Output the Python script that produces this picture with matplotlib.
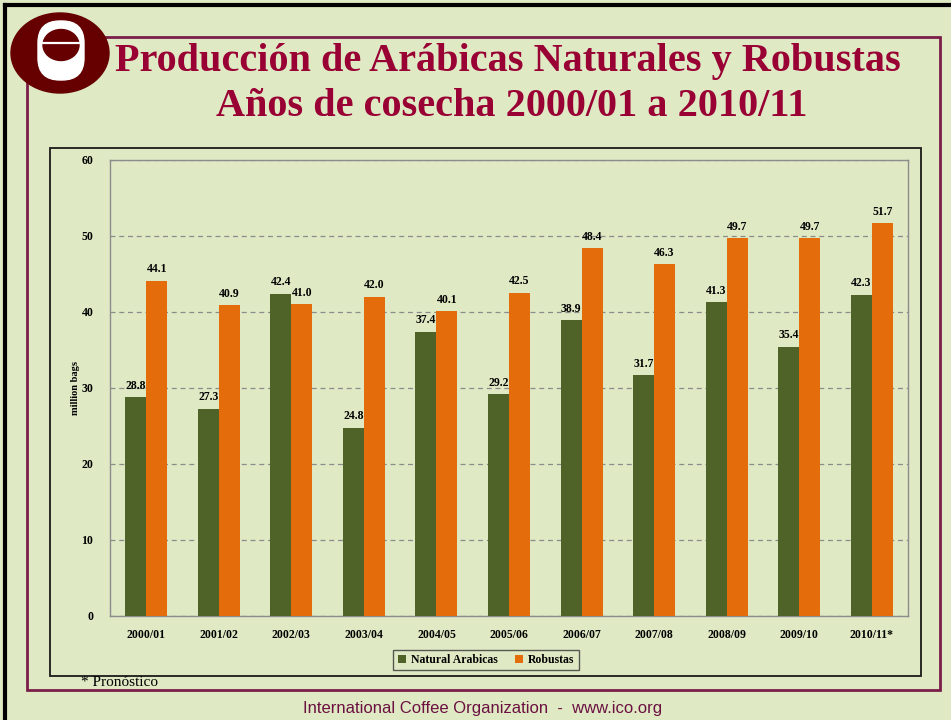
import numpy as np
import matplotlib
matplotlib.use("Agg")
import matplotlib.pyplot as plt
from matplotlib.patches import Rectangle, Ellipse, FancyBboxPatch

# data
seasons = ["2000/01", "2001/02", "2002/03", "2003/04", "2004/05", "2005/06",
           "2006/07", "2007/08", "2008/09", "2009/10", "2010/11*"]
natural_arabicas = [28.8, 27.3, 42.4, 24.8, 37.4, 29.2, 38.9, 31.7, 41.3, 35.4, 42.3]
robustas = [44.1, 40.9, 41.0, 42.0, 40.1, 42.5, 48.4, 46.3, 49.7, 49.7, 51.7]

bg = "#DFEAC4"
green = "#4F6228"
orange = "#E46C0A"
maroon = "#7A1E48"
serif = "Liberation Serif"

W, H = 951, 720
fig = plt.figure(figsize=(W / 100, H / 100), dpi=100, facecolor=bg)

# overlay in pixel coords for frames and logo
deco = fig.add_axes([0, 0, 1, 1])
deco.set_xlim(0, W)
deco.set_ylim(H, 0)
deco.axis("off")
deco.patch.set_alpha(0)

deco.plot([4.5, 4.5], [H, 4.5], color="black", lw=3)
deco.plot([4.5, W], [4.5, 4.5], color="black", lw=3)
deco.add_patch(Rectangle((27, 37), 913, 653, fill=False, ec=maroon, lw=2))
deco.add_patch(Rectangle((50, 148), 871, 528, fill=False, ec="#1a1a1a", lw=1.3))

# logo
deco.add_patch(Ellipse((60, 53), 98, 80, color="#660000", zorder=3))
deco.add_patch(FancyBboxPatch((38, 21), 46, 59, boxstyle="round,pad=0,rounding_size=22",
                              color="white", zorder=4))
deco.add_patch(Ellipse((61, 45), 36, 31, color="#660000", zorder=5))
deco.plot([43, 79], [43, 43], color="white", lw=1.6, zorder=6)

# titles
fig.text(508 / W, 1 - 61 / H, "Producción de Arábicas Naturales y Robustas",
         ha="center", va="center", fontsize=29, fontweight="bold",
         family=serif, color="#990033")
fig.text(512 / W, 1 - 106 / H, "Años de cosecha 2000/01 a 2010/11",
         ha="center", va="center", fontsize=29, fontweight="bold",
         family=serif, color="#990033")

# chart
ax = fig.add_axes([110 / W, 1 - 616 / H, 798 / W, 456 / H])
ax.set_facecolor(bg)
x = np.arange(len(seasons))
w = 0.29
b1 = ax.bar(x - w / 2, natural_arabicas, w, color=green, label="Natural Arabicas", zorder=3)
b2 = ax.bar(x + w / 2, robustas, w, color=orange, label="Robustas", zorder=3)

for bars in (b1, b2):
    for r in bars:
        ax.annotate("%.1f" % r.get_height(), (r.get_x() + r.get_width() / 2, r.get_height()),
                    xytext=(0, 4), textcoords="offset points", ha="center", va="bottom",
                    fontsize=8.5, fontweight="bold", family=serif, zorder=4)

ax.set_xlim(-0.5, len(seasons) - 0.5)
ax.set_ylim(0, 60)
ax.set_yticks(range(0, 61, 10))
ax.set_xticks(x)
ax.set_xticklabels(seasons)
ax.tick_params(length=0)
ax.tick_params(axis="y", pad=12)
ax.tick_params(axis="x", pad=9)
for lab in ax.get_xticklabels() + ax.get_yticklabels():
    lab.set_fontfamily(serif)
    lab.set_fontweight("bold")
    lab.set_fontsize(8.5)

ax.yaxis.grid(True, color="#8c8c8c", linestyle=(0, (4, 3)), lw=0.9, zorder=0)
for s in ["left", "right", "bottom", "top"]:
    ax.spines[s].set_color("#8c8c8c")
    ax.spines[s].set_linewidth(1)

ax.set_ylabel("million bags", fontsize=7.5, fontweight="bold", family=serif)
ax.yaxis.set_label_coords(-30 / 798, 0.5)

leg = fig.legend(loc="center", bbox_to_anchor=(486 / W, 1 - 660 / H), ncol=2,
                 frameon=True, fancybox=False, handlelength=0.7, handleheight=0.7,
                 handletextpad=0.4, columnspacing=1.5, borderpad=0.35,
                 prop={"family": serif, "weight": "bold", "size": 8.5})
leg.get_frame().set_edgecolor("#333333")
leg.get_frame().set_facecolor(bg)
leg.get_frame().set_linewidth(1)

fig.text(81 / W, 1 - 683 / H, "* Pronóstico", ha="left", va="center",
         fontsize=11, family=serif)
fig.text(483 / W, 1 - 709 / H, "International Coffee Organization  -  www.ico.org",
         ha="center", va="center", fontsize=12, family="Liberation Sans", color="#6B1040")

fig.savefig("out.png", dpi=100, facecolor=bg)
